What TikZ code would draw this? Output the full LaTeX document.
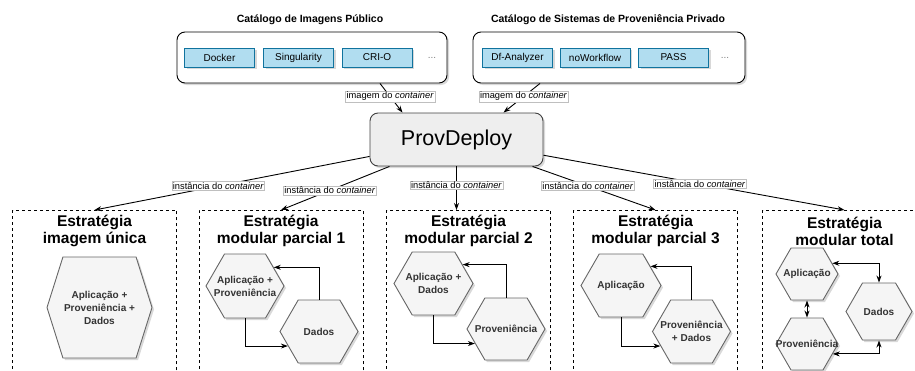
\documentclass[tikz,border=0pt]{standalone}
\usepackage{fontspec}
\setmainfont{Liberation Sans}
\usetikzlibrary{arrows.meta,shapes.symbols,shadows}

\definecolor{catfill}{HTML}{B1DDF0}
\definecolor{catline}{HTML}{10739E}
\definecolor{hexfill}{HTML}{F5F5F5}
\definecolor{hexline}{HTML}{666666}
\definecolor{hextext}{HTML}{333333}
\definecolor{corefill}{HTML}{EEEEEE}

\newcommand{\ctr}{\textit{container}}

\tikzset{
	softshadow/.style={drop shadow={opacity=0.3, shadow xshift=2pt, shadow yshift=-2pt}},
	cattitle/.style={font=\fontsize{10.5}{12}\selectfont\bfseries},
	catalog/.style={draw, line width=0.9pt, rounded corners=8pt, fill=white, minimum width=270pt, minimum height=51pt, softshadow},
	imgbox/.style={draw=catline, fill=catfill, line width=0.9pt, minimum width=70pt, minimum height=19pt, inner sep=0pt, font=\fontsize{10}{12}\selectfont, softshadow},
	more/.style={text=gray, font=\fontsize{10}{12}\selectfont},
	core/.style={draw=black!75, fill=corefill, line width=0.9pt, rounded corners=8pt, minimum width=173pt, minimum height=53pt, font=\fontsize{21.5}{24}\selectfont, softshadow},
	tag/.style={fill=white, draw=black!25, line width=0.4pt, inner sep=1pt, font=\fontsize{9.3}{11}\selectfont},
	strategy/.style={draw, dashed, line width=0.8pt, minimum width=164pt, minimum height=200pt, anchor=north},
	stitle/.style={align=center, font=\fontsize{15.5}{17}\selectfont\bfseries},
	module/.style={signal, signal to=east and west, signal pointer angle=120, draw=hexline, fill=hexfill, line width=0.9pt, inner sep=0pt, softshadow},
	modtext/.style={align=center, text=hextext, font=\fontsize{10}{13}\selectfont\bfseries},
	link/.style={-{Stealth[length=7pt,width=5pt]}, line width=0.9pt},
	twoway/.style={{Stealth[length=7pt,width=5pt]}-{Stealth[length=7pt,width=5pt]}, line width=0.9pt}
}

\begin{document}
\begin{tikzpicture}[x=1pt, y=-1pt]
	\clip (0,0) rectangle (915,370);

	%%%%% catalogos %%%%%
	\node[cattitle] (t1) at (310,20) {Catálogo de Imagens Público};
	\node[catalog] (cat1) at (312,57.5) {};
	\node[imgbox] (docker) at (219.5,57.5) {Docker};
	\node[imgbox] (sing) at (298.5,57.5) {Singularity};
	\node[imgbox] (crio) at (377,57.5) {CRI-O};
	\node[more] (m1) at (432,57.5) {...};

	\node[cattitle] (t2) at (608,20) {Catálogo de Sistemas de Proveniência Privado};
	\node[catalog, minimum width=272pt] (cat2) at (609,57.5) {};
	\node[imgbox] (dfa) at (517.5,57.5) {Df-Analyzer};
	\node[imgbox] (nowf) at (595,57.5) {noWorkflow};
	\node[imgbox] (pass) at (673.5,57.5) {PASS};
	\node[more] (m2) at (725,57.5) {...};

	%%%%% ProvDeploy %%%%%
	\node[core] (pd) at (456.5,139.5) {ProvDeploy};

	\draw[link] ([xshift=68pt]cat1.south) -- node[tag, pos=0.45] {imagem do \ctr} ([xshift=-54pt]pd.north);
	\draw[link] ([xshift=-69pt]cat2.south) -- node[tag, pos=0.45] {imagem do \ctr} ([xshift=47pt]pd.north);

	%%%%% estrategias %%%%%
	\node[strategy] (sa) at (94.5,210) {};
	\node[strategy] (sb) at (281,210) {};
	\node[strategy] (sc) at (468.5,210) {};
	\node[strategy] (sd) at (655.5,210) {};
	\node[strategy] (se) at (844.5,210) {};

	\node[stitle] (sat) at (94.5,231) {Estratégia\\imagem única};
	\node[stitle] (sbt) at (281,231) {Estratégia\\modular parcial 1};
	\node[stitle] (sct) at (468.5,231) {Estratégia\\modular parcial 2};
	\node[stitle] (sdt) at (655.5,231) {Estratégia\\modular parcial 3};
	\node[stitle] (set) at (844.5,231) {Estratégia\\modular total};

	\draw[link] (pd) -- node[tag, pos=0.55] {instância do \ctr} (sa.north);
	\draw[link] (pd) -- node[tag, pos=0.55] {instância do \ctr} (sb.north);
	\draw[link] (pd) -- node[tag, pos=0.43] {instância do \ctr} (pd |- sc.north);
	\draw[link] (pd) -- node[tag, pos=0.45] {instância do \ctr} (sd.north);
	\draw[link] (pd) -- node[tag, pos=0.52] {instância do \ctr} (se.north);

	% imagem unica
	\node[module, signal pointer angle=145, minimum width=105pt, minimum height=101pt,
		label={[modtext]center:{Aplicação +\\Proveniência +\\Dados}}] (a1) at (99.5,307.5) {};

	% modular parcial 1
	\node[module, minimum width=78pt, minimum height=64pt,
		label={[modtext]center:{Aplicação +\\Proveniência}}] (b1) at (245,286) {};
	\node[module, minimum width=78pt, minimum height=63pt,
		label={[modtext]center:Dados}] (b2) at (319,331.5) {};
	\draw[link] (b1.south) |- (b2.205);
	\draw[link] (b2.north) |- (b1.33);

	% modular parcial 2
	\node[module, minimum width=79pt, minimum height=63pt,
		label={[modtext]center:{Aplicação +\\Dados}}] (c1) at (433.5,283.5) {};
	\node[module, minimum width=78pt, minimum height=62pt,
		label={[modtext]center:Proveniência}] (c2) at (506,329) {};
	\draw[link] (c1.south) |- (c2.205);
	\draw[link] (c2.north) |- (c1.33);

	% modular parcial 3
	\node[module, minimum width=80pt, minimum height=63pt,
		label={[modtext]center:Aplicação}] (d1) at (621,285.5) {};
	\node[module, minimum width=78pt, minimum height=63pt,
		label={[modtext]center:{Proveniência\\+ Dados}}] (d2) at (691.5,331.5) {};
	\draw[link] (d1.south) |- (d2.205);
	\draw[link] (d2.north) |- (d1.33);

	% modular total
	\node[module, minimum width=62pt, minimum height=52pt,
		label={[modtext]center:Aplicação}] (e1) at (807,274) {};
	\node[module, minimum width=62pt, minimum height=52pt,
		label={[modtext]center:Proveniência}] (e2) at (807,344) {};
	\node[module, minimum width=66pt, minimum height=57pt,
		label={[modtext]center:Dados}] (e3) at (879,311.5) {};
	\draw[twoway] (e1.23) -| (e3.north);
	\draw[twoway] (e1.south) -- (e2.north);
	\draw[twoway] (e2.-21) -| (e3.south);
\end{tikzpicture}
\end{document}
